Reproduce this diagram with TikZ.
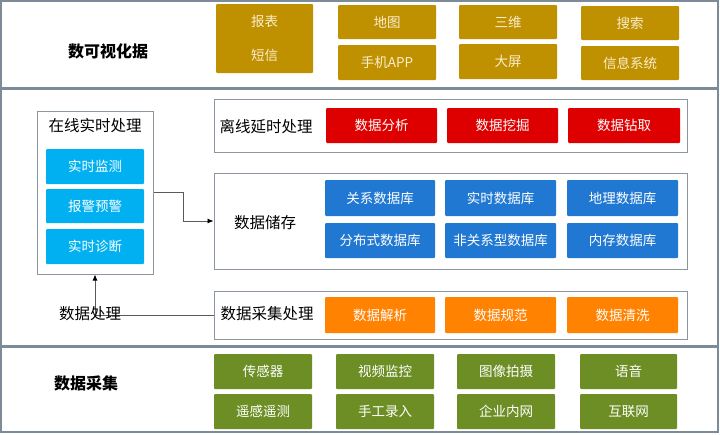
\documentclass[tikz,border=0pt]{standalone}
\usepackage{fontspec}
\setmainfont{Noto Sans CJK SC}
\usetikzlibrary{arrows.meta}
\definecolor{gold}{RGB}{191,144,0}
\definecolor{goldtext}{RGB}{250,238,205}
\definecolor{redc}{RGB}{222,0,0}
\definecolor{cyanc}{RGB}{0,176,240}
\definecolor{bluec}{RGB}{32,120,210}
\definecolor{orangec}{RGB}{255,130,0}
\definecolor{greenc}{RGB}{108,142,36}
\definecolor{bandgray}{RGB}{125,138,152}
\definecolor{framegray}{RGB}{140,150,160}
\definecolor{conngray}{RGB}{90,90,90}
\newcommand\cellat[7]{%
  \node[#1, minimum width={#5-#3}, minimum height={#6-#4}] (#2) at ({(#3+#5)/2},{(#4+#6)/2}) {#7};}
\tikzset{
  band/.style={draw=bandgray, line width=1.4pt, inner sep=0pt},
  frame/.style={draw=framegray, line width=1pt, inner sep=0pt, fill=white},
  cell/.style={inner sep=0pt, text=white, font=\fontsize{13.5}{16}\selectfont, rounded corners=1pt},
  goldcell/.style={cell, fill=gold, text=goldtext},
  redcell/.style={cell, fill=redc},
  cyancell/.style={cell, fill=cyanc},
  bluecell/.style={cell, fill=bluec},
  orangecell/.style={cell, fill=orangec},
  greencell/.style={cell, fill=greenc},
  title/.style={font=\fontsize{16}{18}\selectfont\bfseries, text=black},
  label/.style={font=\fontsize{15.5}{18}\selectfont, text=black},
  conn/.style={draw=conngray, line width=0.8pt},
  tip/.style={-{Latex[length=6pt,width=5pt,color=black]}}
}
\begin{document}
\begin{tikzpicture}[x=1pt,y=-1pt]
\useasboundingbox (0,0) rectangle (720,434);
\fill[white] (0,0) rectangle (720,434);
% bands
\cellat{band}{bandtop}{1}{1}{718}{88}{}
\cellat{band}{bandmid}{1}{89}{718}{346}{}
\cellat{band}{bandbot}{1}{347}{718}{432}{}
% top band
\node[title] (ttop) at (108,51) {数可视化据};
\cellat{goldcell}{g1}{216}{4}{313}{73}{}
\node[cell, text=goldtext] (g1a) at (264.5,21.5) {报表};
\node[cell, text=goldtext] (g1b) at (264.5,55.5) {短信};
\cellat{goldcell}{g2}{338}{5}{436}{39}{地图}
\cellat{goldcell}{g3}{459}{5}{557}{39}{三维}
\cellat{goldcell}{g4}{581}{6}{679}{40}{搜索}
\cellat{goldcell}{g6}{338}{45}{436}{80}{手机APP}
\cellat{goldcell}{g7}{459}{44}{557}{79}{大屏}
\cellat{goldcell}{g8}{581}{46}{679}{80}{信息系统}
% middle band
\cellat{frame}{online}{37}{111}{153}{274}{}
\node[label] (onlinet) at (95,126) {在线实时处理};
\cellat{cyancell}{c1}{46}{149}{144}{184}{实时监测}
\cellat{cyancell}{c2}{46}{189}{144}{223}{报警预警}
\cellat{cyancell}{c3}{46}{229}{144}{264}{实时诊断}
\cellat{frame}{offline}{214}{99}{687}{152}{}
\node[label] (offlinet) at (266,127) {离线延时处理};
\cellat{redcell}{r1}{326}{108}{437}{143}{数据分析}
\cellat{redcell}{r2}{447}{108}{558}{143}{数据挖掘}
\cellat{redcell}{r3}{568}{108}{680}{143}{数据钻取}
\cellat{frame}{storage}{214}{173}{687}{269}{}
\node[label] (storaget) at (265,223) {数据储存};
\cellat{bluecell}{b1}{325}{180}{435}{216}{关系数据库}
\cellat{bluecell}{b2}{445}{180}{556}{216}{实时数据库}
\cellat{bluecell}{b3}{567}{180}{678}{216}{地理数据库}
\cellat{bluecell}{b4}{325}{223}{435}{258}{分布式数据库}
\cellat{bluecell}{b5}{445}{223}{556}{258}{非关系型数据库}
\cellat{bluecell}{b6}{567}{223}{678}{258}{内存数据库}
\cellat{frame}{collect}{214}{291}{687}{339}{}
\node[label] (collectt) at (267,314) {数据采集处理};
\cellat{orangecell}{o1}{325}{297}{435}{333}{数据解析}
\cellat{orangecell}{o2}{445}{297}{556}{333}{数据规范}
\cellat{orangecell}{o3}{567}{297}{678}{333}{数据清洗}
% connectors
\draw[conn,tip] (online.east) -- ++(30,0) |- (storage.west);
\draw[conn,tip] (collect.west) -| (online.south);
\node[label] (proc) at (90,314) {数据处理};
% bottom band
\node[title] (tbot) at (86,383) {数据采集};
\cellat{greencell}{e1}{214}{354}{312}{389}{传感器}
\cellat{greencell}{e2}{336}{354}{434}{389}{视频监控}
\cellat{greencell}{e3}{457}{354}{555}{389}{图像拍摄}
\cellat{greencell}{e4}{580}{354}{677}{389}{语音}
\cellat{greencell}{e5}{214}{394}{312}{429}{遥感遥测}
\cellat{greencell}{e6}{336}{394}{434}{429}{手工录入}
\cellat{greencell}{e7}{457}{394}{555}{429}{企业内网}
\cellat{greencell}{e8}{580}{394}{677}{429}{互联网}
\end{tikzpicture}
\end{document}
